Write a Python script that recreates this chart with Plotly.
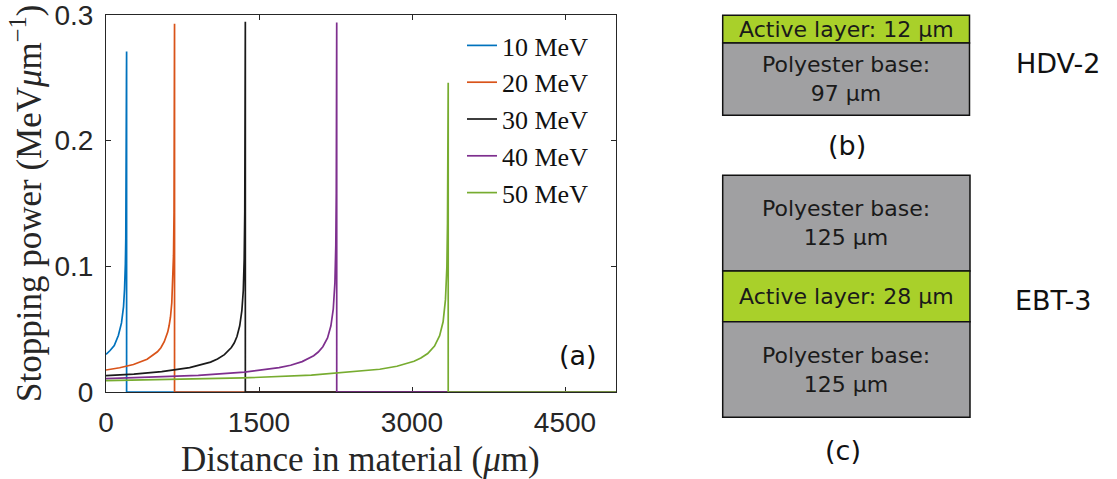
import plotly.graph_objects as go

W, H = 1117, 479

# ---------------- data ----------------
series_names = ["10 MeV", "20 MeV", "30 MeV", "40 MeV", "50 MeV"]

x_10 = [0, 40, 81, 121, 152, 162, 172, 182, 186, 190, 194, 197, 199, 200.4, 202, 202, 5000]
sp_10 = [0.030, 0.033, 0.037, 0.045, 0.055, 0.060, 0.068, 0.082, 0.090, 0.102, 0.122, 0.149, 0.186, 0.245, 0.271, 0, 0]

x_20 = [0, 134, 269, 403, 504, 538, 571, 605, 618, 632, 645, 655, 662, 667, 669.3, 670.7, 672, 672, 5000]
sp_20 = [0.0175, 0.0193, 0.0219, 0.0261, 0.0320, 0.0352, 0.0400, 0.0477, 0.0525, 0.0595, 0.0710, 0.0871, 0.1087, 0.143, 0.193, 0.261, 0.293, 0, 0]

x_30 = [0, 273, 546, 820, 1025, 1093, 1161, 1229, 1257, 1284, 1311, 1332, 1346, 1355, 1360.5, 1363.3, 1366, 1366, 5000]
sp_30 = [0.0130, 0.0143, 0.0162, 0.0194, 0.0238, 0.0262, 0.0297, 0.0354, 0.0390, 0.0442, 0.0527, 0.0647, 0.0808, 0.106, 0.1435, 0.194, 0.2946, 0, 0]

x_40 = [0, 452, 905, 1357, 1697, 1810, 1923, 2036, 2081, 2126, 2172, 2205, 2228, 2244, 2253, 2257.5, 2262, 2262, 5000]
sp_40 = [0.0106, 0.0117, 0.0132, 0.0158, 0.0194, 0.0213, 0.0242, 0.0289, 0.0318, 0.0360, 0.0430, 0.0527, 0.0659, 0.0866, 0.117, 0.158, 0.294, 0, 0]

x_50 = [0, 671, 1342, 2013, 2516, 2684, 2852, 3020, 3087, 3154, 3221, 3271, 3305, 3328, 3342, 3348, 3355, 3355, 5000]
sp_50 = [0.0090, 0.0099, 0.0112, 0.0134, 0.0165, 0.0181, 0.0205, 0.0245, 0.0270, 0.0306, 0.0365, 0.0448, 0.0559, 0.0735, 0.0994, 0.134, 0.246, 0, 0]

x_ticks = [0, 1500, 3000, 4500]
y_ticks = [0, 0.1, 0.2, 0.3]

hdv_layers = ["Active layer: 12 μm", "Polyester base:<br>97 μm"]
ebt_layers = ["Polyester base:<br>125 μm", "Active layer: 28 μm", "Polyester base:<br>125 μm"]
film_names = ["HDV-2", "EBT-3"]
panel_labels = ["(a)", "(b)", "(c)"]

# ---------------- style ----------------
colors = ["#0072BD", "#D95319", "#1a1a1a", "#7E2F8E", "#77AC30"]
ACTIVE = "#A9D02A"
BASE = "#A0A0A2"
AX = "#262626"
SERIF = "Liberation Serif"
SANS = "DejaVu Sans"


def px(x):
    return x / W


def py(y):
    return 1 - y / H


def label(x, y, text, size, family=SANS, color="#111111", angle=0):
    return dict(x=px(x), y=py(y), xref="paper", yref="paper", text=text,
                showarrow=False, xanchor="center", yanchor="middle",
                align="center", textangle=angle,
                font=dict(family=family, size=size, color=color))


# plot area in pixels
L, R, T, B = 106, 616, 15, 392

fig = go.Figure()
xs = [x_10, x_20, x_30, x_40, x_50]
ys = [sp_10, sp_20, sp_30, sp_40, sp_50]
for name, xv, yv, c in zip(series_names, xs, ys, colors):
    fig.add_trace(go.Scatter(x=xv, y=yv, mode="lines", name=name,
                             line=dict(color=c, width=1.7)))

axis_common = dict(showgrid=False, zeroline=False, showline=True, linecolor=AX,
                   linewidth=1, mirror="ticks", ticks="inside", ticklen=5,
                   tickcolor=AX, tickwidth=1, automargin=False,
                   layer="below traces", ticklabeloverflow="allow",
                   tickfont=dict(family="Liberation Sans", size=28, color=AX))

fig.update_layout(
    width=W, height=H, template="none",
    margin=dict(l=0, r=0, t=0, b=0, pad=0),
    paper_bgcolor="white", plot_bgcolor="white",
    xaxis=dict(domain=[px(L), px(R)], range=[0, 5000], tickvals=x_ticks,
               ticktext=[str(v) for v in x_ticks], ticklabelstandoff=5,
               **axis_common),
    yaxis=dict(domain=[py(B), py(T)], range=[0, 0.3], tickvals=y_ticks,
               ticktext=["0", "0.1", "0.2", "0.3"], ticklabelstandoff=6,
               **axis_common),
    showlegend=True,
    legend=dict(x=px(462), y=py(22), xanchor="left", yanchor="top",
                bgcolor="rgba(0,0,0,0)", borderwidth=0,
                font=dict(family=SERIF, size=26, color="#111111"),
                tracegroupgap=0, itemwidth=30),
)

ann = []
# axis titles
ann.append(label(360, 459, "Distance in material (<i>μ</i>m)", 35, SERIF, AX))
ann.append(label(27, 203, "Stopping power (MeV<i>μ</i>m<sup>−1</sup>)", 35, SERIF, AX, -90))
# (a)
ann.append(label(578, 355, panel_labels[0], 27))

shapes = []
# HDV-2 diagram
hdv_bounds = [(15.3, 43), (43, 115.3)]
for (t, b), txt, fill in zip(hdv_bounds, hdv_layers, [ACTIVE, BASE]):
    shapes.append(dict(type="rect", xref="paper", yref="paper",
                       x0=px(722.7), x1=px(969.5), y0=py(b), y1=py(t),
                       fillcolor=fill, line=dict(color="#111111", width=1.5)))
    ann.append(label(846, (t + b) / 2, txt, 22, SANS, "#1a1a1a"))
# EBT-3 diagram
ebt_bounds = [(175.3, 271), (271, 321.7), (321.7, 417.3)]
for (t, b), txt, fill in zip(ebt_bounds, ebt_layers, [BASE, ACTIVE, BASE]):
    shapes.append(dict(type="rect", xref="paper", yref="paper",
                       x0=px(722.7), x1=px(970), y0=py(b), y1=py(t),
                       fillcolor=fill, line=dict(color="#111111", width=1.5)))
    ann.append(label(846, (t + b) / 2, txt, 22, SANS, "#1a1a1a"))

ann.append(label(1058, 63, film_names[0], 27))
ann.append(label(1053, 300, film_names[1], 27))
ann.append(label(847, 145, panel_labels[1], 27))
ann.append(label(843, 450, panel_labels[2], 27))

fig.update_layout(annotations=ann, shapes=shapes)
fig.write_html("out.html", config={"displayModeBar": False},
               post_script="document.body.style.margin='0';")
